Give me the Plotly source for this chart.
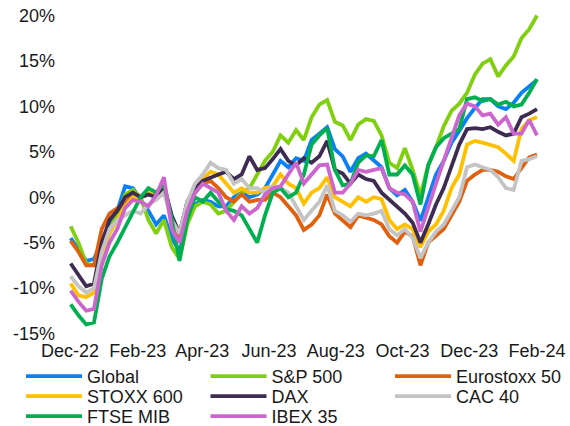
import plotly.graph_objects as go
import pandas as pd

# 61 evenly spaced observations between early Dec 2022 and 1 Feb 2024
dates = pd.date_range("2022-12-01 15:00", "2024-02-01 00:00", periods=61)

global_idx = [-4.5, -5.8, -7.0, -6.8, -5.0, -3.0, -1.5, 1.2, 1.0, -0.3,
              -1.5, -3.0, -2.0, -4.5, -6.0, -2.5, -0.8, -0.3, -0.5, -1.0,
              -1.0, 0.0, 0.5, 0.0, 0.3, 1.0, 2.5, 4.0, 3.3, 4.3,
              4.0, 6.3, 7.0, 7.7, 5.3, 4.5, 2.8, 4.3, 4.8, 4.0,
              3.3, 1.0, 0.2, 0.8, -0.5, -2.6, 0.0, 2.5, 4.0, 6.0,
              7.3, 8.7, 9.8, 10.8, 10.8, 10.0, 9.7, 10.4, 11.5, 12.2,
              12.9]
sp500 = [-3.2, -5.0, -7.3, -7.5, -6.0, -3.5, -2.0, 0.3, 0.8, 0.0,
         -2.5, -4.0, -2.5, -5.5, -6.8, -3.0, -1.0, -0.5, -0.8, -1.8,
         -1.5, -0.5, 0.5, 1.0, 2.5, 4.0, 5.0, 6.8, 6.0, 7.4,
         6.3, 8.8, 10.2, 10.7, 8.3, 7.9, 6.3, 8.0, 8.6, 8.4,
         6.8, 3.8, 3.2, 5.4, 3.0, 0.2, 3.5, 5.5, 7.8, 9.5,
         10.3, 11.5, 13.5, 14.7, 15.2, 13.3, 14.5, 15.5, 17.5, 18.5,
         20.0]
eurostoxx50 = [-4.8, -6.0, -7.5, -7.5, -3.5, -1.8, -1.2, -0.8, 0.5, 0.0,
               0.3, 0.2, 0.8, -2.5, -4.5, -1.0, 0.5, 1.5, 1.8, 1.0,
               0.0, -0.5, 0.3, -0.5, -0.3, -0.3, 0.5, 0.0, -1.0, -2.0,
               -3.6, -3.0, -2.0, 0.3, -1.8, -2.5, -3.3, -2.0, -2.3, -2.5,
               -3.0, -4.3, -5.0, -3.8, -4.3, -7.5, -5.0, -4.2, -3.5, -2.0,
               -0.5, 1.8, 2.5, 3.0, 3.0, 2.8, 2.3, 2.0, 3.2, 4.4,
               4.7]
stoxx600 = [-9.5, -10.8, -11.0, -10.5, -6.5, -4.0, -2.5, -1.0, 0.0, 0.0,
            0.5, 0.0, 1.0, -2.5, -4.0, -1.0, 1.0, 2.0, 2.8, 2.5,
            1.5, 0.5, 1.0, 0.5, 0.5, 1.0, 1.2, 2.5, 1.5, 1.0,
            -0.7, 0.5, 1.0, 2.2, 0.0, -0.5, -1.0, 0.0, -0.5, 0.0,
            -0.2, -2.5, -3.5, -3.0, -3.5, -5.5, -3.8, -3.0, -1.5, 1.0,
            2.5, 5.8, 6.2, 6.0, 5.7, 5.5, 4.8, 4.0, 7.5, 8.5,
            8.8]
dax = [-7.3, -8.5, -9.8, -9.5, -5.0, -2.5, -1.5, 0.0, 0.5, 0.0,
       0.3, 0.0, 1.3, -2.0, -4.0, -0.5, 1.0, 1.8, 2.2, 2.5,
       2.8, 2.0, 2.5, 4.5, 3.0, 3.2, 4.2, 5.3, 4.0, 3.5,
       4.3, 3.8, 4.5, 6.2, 3.0, 2.6, 1.5, 2.5, 2.0, 1.8,
       0.5, -0.3, -1.0, -1.8, -2.8, -5.0, -3.0, -0.8, 1.0, 3.3,
       5.8, 7.5, 7.6, 7.5, 7.7, 7.2, 6.8, 7.0, 8.8, 9.2,
       9.7]
cac40 = [-8.7, -9.8, -10.5, -10.0, -6.0, -3.5, -2.5, -2.0, -1.5, -1.8,
         -0.8, -0.3, 0.5, -2.5, -4.0, -0.5, 1.5, 2.5, 3.8, 3.2,
         3.0, 1.5, 2.0, 1.0, 1.0, 0.5, 1.2, 1.0, 0.5, -1.0,
         -2.5, -1.5, -0.5, 1.3, -1.5, -2.0, -2.7, -1.8, -2.0, -1.8,
         -1.5, -3.5, -4.2, -3.5, -4.5, -6.7, -5.0, -3.8, -3.0, -1.5,
         0.0, 3.3, 3.6, 3.3, 3.0, 2.2, 1.0, 0.8, 4.0, 4.2,
         4.5]
ftse_mib = [-11.8, -13.0, -14.0, -13.8, -9.0, -6.5, -5.0, -3.3, -1.5, 0.0,
            1.0, 0.5, 1.5, -2.5, -7.0, -2.5, 0.0, -0.5, 0.5, -0.5,
            -1.3, -1.5, -2.0, -3.5, -5.0, -2.0, 0.5, 1.0, 0.0, 0.5,
            2.5, 5.8, 6.8, 7.6, 3.0, 1.3, 1.5, 3.8, 4.6, 4.5,
            6.3, 2.5, 2.5, 3.5, 2.5, -0.8, 3.5, 5.5, 6.5, 7.0,
            7.5, 10.8, 11.0, 10.6, 10.8, 10.2, 10.5, 10.0, 10.2, 11.5,
            13.0]
ibex35 = [-10.3, -11.5, -12.5, -12.3, -7.5, -5.0, -3.5, -1.2, -0.3, -0.5,
          -1.0, 0.2, 2.2, -3.5, -5.0, -1.5, 0.5, 1.5, 1.0, 0.5,
          -1.5, -2.5, -1.0, -1.8, -1.2, 0.3, 1.0, 1.2, 2.5, 3.8,
          1.5, 2.5, 3.5, 3.6, 0.5, 0.5, 1.5, 3.0, 2.8, 3.0,
          3.2, 1.0, 0.5, 0.3, -0.5, -3.8, -1.0, 1.5, 4.0, 6.5,
          9.0, 10.3, 10.0, 9.0, 9.2, 8.0, 8.8, 7.0, 7.0, 8.5,
          6.8]

series_names = ["Global", "S&P 500", "Eurostoxx 50", "STOXX 600", "DAX",
                "CAC 40", "FTSE MIB", "IBEX 35"]
series_values = [global_idx, sp500, eurostoxx50, stoxx600, dax, cac40,
                 ftse_mib, ibex35]
series_colors = ["#0A80F8", "#80D010", "#E0600E", "#FFC000", "#3D2B52",
                 "#C4C4C4", "#00B050", "#CC66CC"]

x_tick_labels = ["Dec-22", "Feb-23", "Apr-23", "Jun-23", "Aug-23", "Oct-23",
                 "Dec-23", "Feb-24"]
x_tick_dates = ["2022-12-01", "2023-02-01", "2023-04-01", "2023-06-01",
                "2023-08-01", "2023-10-01", "2023-12-01", "2024-02-01"]
y_tick_vals = [-15, -10, -5, 0, 5, 10, 15, 20]
y_tick_labels = ["-15%", "-10%", "-5%", "0%", "5%", "10%", "15%", "20%"]

font_family = "Arial, Liberation Sans, sans-serif"
txt_color = "#1a1a1a"

# legend grid: 3 columns x 3 rows (row-major order of the series)
legend_cols_x = [-0.0804, 0.30, 0.6804]
legend_rows_y = [-0.0612, -0.1223, -0.1835]

fig = go.Figure()
legend_layout = {}
for k, (name, vals, col) in enumerate(zip(series_names, series_values,
                                          series_colors)):
    lid = "legend" if k == 0 else f"legend{k + 1}"
    fig.add_trace(go.Scatter(x=dates, y=vals, name=name, mode="lines",
                             legend=lid,
                             line=dict(color=col, width=3.8)))
    legend_layout[lid] = dict(
        orientation="h", x=legend_cols_x[k % 3], xanchor="left",
        y=legend_rows_y[k // 3], yanchor="top", itemwidth=56,
        font=dict(family=font_family, size=18, color=txt_color),
        bgcolor="rgba(0,0,0,0)")

fig.update_layout(
    width=570, height=426,
    margin=dict(l=60, r=25, t=11, b=88, pad=0, autoexpand=False),
    paper_bgcolor="white", plot_bgcolor="white",
    font=dict(family=font_family, size=18, color=txt_color),
    showlegend=True,
    xaxis=dict(type="date",
               range=["2022-11-21 20:40", "2024-02-08 07:30"],
               tickvals=x_tick_dates, ticktext=x_tick_labels,
               showgrid=False, zeroline=False, showline=False, ticks="",
               automargin=False,
               tickfont=dict(size=18), ticklabelstandoff=0),
    yaxis=dict(range=[-15.5, 20.5], tickvals=y_tick_vals,
               ticktext=y_tick_labels, automargin=False,
               showgrid=False, zeroline=False, showline=False, ticks="",
               tickfont=dict(size=18), ticklabelstandoff=4),
    **legend_layout,
)

fig.write_html("out.html",
               config={"displayModeBar": False},
               post_script="document.body.style.margin='0px';")
